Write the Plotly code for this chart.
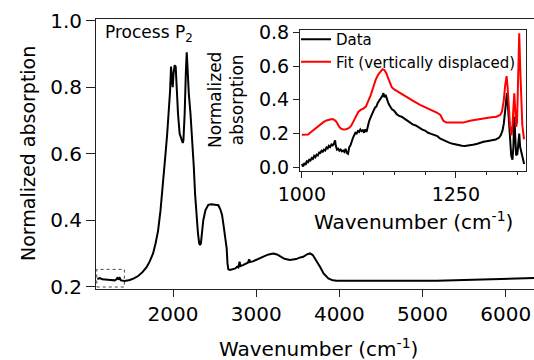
import plotly.graph_objects as go

# ---------------- main spectrum ----------------
main_wn = [1090, 1120, 1150, 1200, 1250, 1300, 1320, 1335, 1345, 1360, 1375, 1420, 1480, 1530, 1580,
           1630, 1680, 1720, 1760, 1790, 1820, 1850, 1870, 1890, 1910, 1930, 1950, 1965, 1976, 1986,
           1996, 2006, 2020, 2032, 2045, 2060, 2080, 2100, 2117, 2125, 2140, 2155, 2165, 2172, 2178,
           2190, 2210, 2230, 2250, 2265, 2280, 2300, 2315, 2325, 2335, 2345, 2364, 2390, 2424, 2460,
           2500, 2545, 2570, 2590, 2610, 2630, 2645, 2655, 2665, 2685, 2720, 2750, 2770, 2785, 2800,
           2810, 2840, 2870, 2900, 2915, 2925, 2960, 3000, 3050, 3100, 3150, 3206, 3250, 3286, 3340,
           3406, 3480, 3530, 3566, 3610, 3647, 3680, 3720, 3767, 3810, 3867, 3920, 3968, 4200, 4500,
           4800, 5170, 5500, 5800, 6100, 6340]
main_abs = [0.223, 0.226, 0.222, 0.220, 0.220, 0.219, 0.222, 0.228, 0.221, 0.226, 0.219, 0.217, 0.220, 0.225, 0.232,
            0.243, 0.258, 0.276, 0.300, 0.330, 0.368, 0.430, 0.480, 0.540, 0.600, 0.660, 0.730, 0.790, 0.862, 0.820,
            0.800, 0.840, 0.866, 0.862, 0.790, 0.720, 0.660, 0.645, 0.632, 0.640, 0.720, 0.850, 0.905, 0.870, 0.810,
            0.780, 0.720, 0.650, 0.560, 0.480, 0.420, 0.360, 0.330, 0.325, 0.330, 0.360, 0.400, 0.430, 0.446, 0.448,
            0.447, 0.445, 0.432, 0.415, 0.380, 0.340, 0.315, 0.270, 0.252, 0.250, 0.252, 0.255, 0.260, 0.258, 0.275,
            0.262, 0.265, 0.268, 0.272, 0.282, 0.274, 0.276, 0.281, 0.286, 0.292, 0.297, 0.300, 0.297, 0.292, 0.284,
            0.280, 0.283, 0.288, 0.290, 0.297, 0.300, 0.295, 0.280, 0.260, 0.240, 0.225, 0.219, 0.218, 0.2175, 0.2172,
            0.2175, 0.218, 0.220, 0.222, 0.224, 0.226]

main_xticks = [2000, 3000, 4000, 5000, 6000]
main_yticks = [0.2, 0.4, 0.6, 0.8, 1.0]

# ---------------- inset: data ----------------
data_wn = [1000, 1002, 1004, 1006, 1008, 1010, 1012, 1014, 1016, 1018, 1020, 1022, 1024, 1026, 1028, 1030,
           1032, 1034, 1036, 1038, 1040, 1042, 1044, 1046, 1048, 1050, 1052, 1054, 1055, 1057, 1059, 1061,
           1063, 1065, 1067, 1069, 1071, 1073, 1075, 1077, 1079, 1081, 1083, 1085, 1087, 1089, 1091, 1093,
           1095, 1097, 1099, 1101, 1103, 1105, 1107, 1109, 1111, 1113, 1115, 1117, 1119, 1121, 1123, 1125,
           1127, 1129, 1131, 1132.5, 1134, 1136, 1138, 1140, 1142, 1144, 1146, 1150, 1154, 1158, 1162, 1166,
           1170, 1175, 1180, 1185, 1190, 1195, 1200, 1205, 1210, 1215, 1220, 1225, 1230, 1235, 1240, 1245,
           1250, 1255, 1260, 1265, 1270, 1275, 1280, 1285, 1290, 1295, 1300, 1305, 1310, 1315, 1320, 1323,
           1326, 1328, 1330, 1332, 1333, 1334, 1336, 1338, 1340, 1342, 1343.5, 1345, 1346.5, 1348, 1350, 1352,
           1353, 1354.5, 1356, 1358, 1360, 1361]
data_abs = [0.020, 0.005, 0.025, 0.015, 0.035, 0.030, 0.045, 0.040, 0.055, 0.050, 0.068, 0.060, 0.075, 0.070, 0.088, 0.085,
            0.098, 0.092, 0.105, 0.100, 0.118, 0.112, 0.128, 0.120, 0.135, 0.130, 0.140, 0.160, 0.130, 0.105, 0.110, 0.098,
            0.105, 0.095, 0.100, 0.092, 0.110, 0.085, 0.080, 0.120, 0.130, 0.160, 0.175, 0.190, 0.205, 0.200, 0.215, 0.210,
            0.225, 0.215, 0.220, 0.205, 0.225, 0.210, 0.250, 0.270, 0.290, 0.310, 0.330, 0.340, 0.355, 0.360, 0.380, 0.390,
            0.400, 0.410, 0.425, 0.440, 0.415, 0.430, 0.400, 0.385, 0.370, 0.360, 0.345, 0.335, 0.315, 0.305, 0.300, 0.290,
            0.280, 0.265, 0.255, 0.248, 0.235, 0.225, 0.218, 0.205, 0.198, 0.190, 0.185, 0.170, 0.160, 0.152, 0.145, 0.140,
            0.135, 0.130, 0.128, 0.126, 0.128, 0.132, 0.135, 0.140, 0.148, 0.152, 0.155, 0.158, 0.162, 0.165, 0.175, 0.190,
            0.220, 0.260, 0.330, 0.420, 0.440, 0.400, 0.280, 0.140, 0.070, 0.045, 0.120, 0.300, 0.150, 0.070, 0.080, 0.150,
            0.200, 0.120, 0.100, 0.060, 0.030, 0.020]

# ---------------- inset: fit ----------------
fit_wn = [1000, 1005, 1010, 1015, 1020, 1025, 1030, 1035, 1040, 1045, 1049, 1052, 1055, 1058, 1061, 1064,
          1068, 1072, 1076, 1080, 1084, 1088, 1092, 1096, 1100, 1104, 1108, 1112, 1116, 1120, 1124, 1128,
          1131, 1134, 1137, 1140, 1143, 1146, 1150, 1160, 1170, 1180, 1192, 1205, 1219, 1225, 1230, 1235,
          1240, 1252, 1262, 1273, 1285, 1295, 1305, 1316, 1322, 1325, 1328, 1330, 1332.5, 1334, 1336, 1338,
          1340.5, 1342, 1343.5, 1345, 1346.5, 1348, 1349.5, 1351, 1353, 1354.5, 1356, 1358, 1360.8]
fit_abs = [0.193, 0.193, 0.195, 0.210, 0.225, 0.240, 0.255, 0.268, 0.278, 0.284, 0.286, 0.283, 0.275, 0.258, 0.238, 0.228,
           0.224, 0.226, 0.232, 0.245, 0.275, 0.310, 0.330, 0.342, 0.348, 0.360, 0.390, 0.430, 0.475, 0.520, 0.550, 0.572,
           0.582, 0.577, 0.560, 0.530, 0.495, 0.475, 0.462, 0.438, 0.415, 0.395, 0.370, 0.350, 0.325, 0.310, 0.275, 0.265,
           0.265, 0.261, 0.265, 0.276, 0.285, 0.290, 0.296, 0.300, 0.310, 0.330, 0.400, 0.480, 0.541, 0.480, 0.340, 0.250,
           0.190, 0.240, 0.350, 0.438, 0.340, 0.240, 0.270, 0.450, 0.794, 0.600, 0.400, 0.250, 0.166]

inset_xticks = [1000, 1250]
inset_yticks = [0.0, 0.2, 0.4, 0.6, 0.8]

FONT = "DejaVu Sans"
AX = "#222222"

fig = go.Figure()
fig.add_trace(go.Scatter(x=main_wn, y=main_abs, mode="lines", line=dict(color="black", width=2),
                         showlegend=False, xaxis="x", yaxis="y"))
fig.add_trace(go.Scatter(x=data_wn, y=data_abs, mode="lines", name="Data",
                         line=dict(color="black", width=2), xaxis="x2", yaxis="y2"))
fig.add_trace(go.Scatter(x=fit_wn, y=fit_abs, mode="lines", name="Fit (vertically displaced)",
                         line=dict(color="#ff0000", width=2), xaxis="x2", yaxis="y2"))

W, H = 534, 360
fig.update_layout(
    width=W, height=H, margin=dict(l=0, r=0, t=0, b=0, pad=0, autoexpand=False),
    paper_bgcolor="white", plot_bgcolor="white",
    font=dict(family=FONT, color="black"),
    xaxis=dict(domain=[96 / W, 1.0], range=[1074, 6340], tickvals=main_xticks, automargin=False,
               ticks="outside", ticklen=7, tickcolor=AX, showline=True, linecolor=AX, linewidth=1,
               mirror=True, showgrid=False, zeroline=False, tickfont=dict(size=20), anchor="y"),
    yaxis=dict(domain=[(H - 289) / H, (H - 18.7) / H], range=[0.193, 1.006], tickvals=main_yticks,
               automargin=False,
               tickformat=".1f", ticks="outside", ticklen=9, tickcolor=AX, showline=True, linecolor=AX,
               linewidth=1, showgrid=False, zeroline=False, tickfont=dict(size=20), anchor="x"),
    xaxis2=dict(domain=[300 / W, 526 / W], range=[997, 1364], tickvals=inset_xticks, automargin=False,
                ticks="outside", ticklen=6, tickcolor=AX, showline=True, linecolor=AX, linewidth=1,
                mirror=True, showgrid=False, zeroline=False, tickfont=dict(size=19), anchor="y2",
                minor=dict(dtick=50, tick0=1000, ticklen=3, ticks="outside", tickcolor=AX, showgrid=False)),
    yaxis2=dict(domain=[(H - 170.7) / H, (H - 30) / H], range=[-0.02, 0.814], tickvals=inset_yticks,
                automargin=False,
                tickformat=".1f", ticks="outside", ticklen=6, tickcolor=AX, showline=True, linecolor=AX,
                linewidth=1, mirror=True, showgrid=False, zeroline=False, tickfont=dict(size=19), anchor="x2"),
    legend=dict(x=296 / W, y=(H - 23) / H, xanchor="left", yanchor="top", bgcolor="rgba(0,0,0,0)",
                font=dict(size=15), itemwidth=30, tracegroupgap=0),
    showlegend=True,
)

fig.add_shape(type="rect", xref="x", yref="y", x0=1083, x1=1415, y0=0.199, y1=0.252,
              line=dict(color="#444444", width=1, dash="dot"))

ann = [
    dict(text="Normalized absorption", x=28 / W, y=(H - 154) / H, textangle=-90, font=dict(size=19)),
    dict(text="Wavenumber (cm<sup>-1</sup>)", x=318 / W, y=(H - 348) / H, font=dict(size=20)),
    dict(text="Normalized<br>absorption", x=226 / W, y=(H - 100) / H, textangle=-90, font=dict(size=17)),
    dict(text="Wavenumber (cm<sup>-1</sup>)", x=413 / W, y=(H - 221) / H, font=dict(size=20)),
    dict(text="Process P<sub>2</sub>", x=103 / W, y=(H - 33) / H, xanchor="left", font=dict(size=17)),
]
for a in ann:
    a.setdefault("xanchor", "center")
    fig.add_annotation(xref="paper", yref="paper", showarrow=False, yanchor="middle", **a)

fig.write_html("out.html")
